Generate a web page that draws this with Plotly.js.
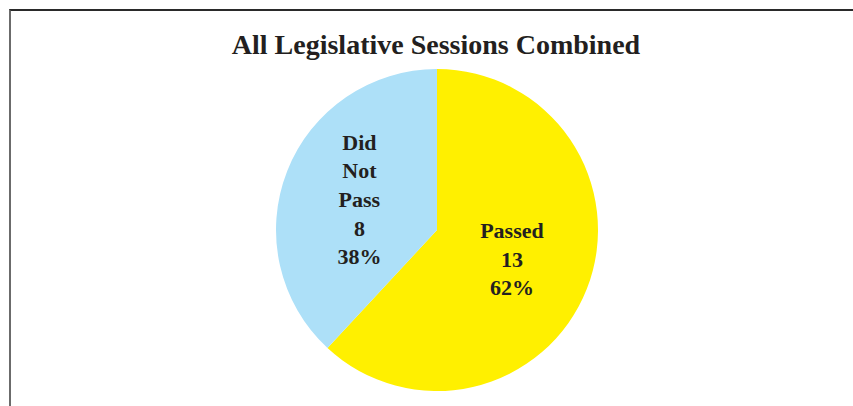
<!DOCTYPE html>
<html><head><meta charset="utf-8">
<script src="https://cdn.plot.ly/plotly-3.0.1.min.js"></script>
<style>
html,body{margin:0;padding:0;background:#fff;}
#wrap{position:relative;width:853px;height:406px;overflow:hidden;}
#frame{position:absolute;left:9px;top:9px;width:900px;height:500px;border-left:2px solid #6b6b6b;border-top:2px solid #2a2a2a;pointer-events:none;z-index:5;}
#chart{position:absolute;left:0;top:0;width:853px;height:406px;}
</style></head>
<body><div id="wrap"><div id="chart"></div><div id="frame"></div></div>
<script>
const categories = ["Passed", "Did<br>Not<br>Pass"];
const counts = [13, 8];
const colors = ["#FFF000", "#ADE0F8"];
const chartTitle = "All Legislative Sessions Combined";

const font = "'Liberation Serif', 'Times New Roman', serif";
Plotly.newPlot("chart", [{
  type: "pie",
  labels: categories,
  values: counts,
  sort: false,
  direction: "clockwise",
  rotation: 0,
  marker: {colors: colors, line: {width: 0}},
  texttemplate: "<b>%{label}<br>%{value}<br>%{percent:.0%}</b>",
  textposition: "inside",
  insidetextorientation: "horizontal",
  textfont: {family: font, size: 22, color: "#231f20"},
  hoverinfo: "none",
  showlegend: false
}], {
  width: 853, height: 406,
  margin: {l: 21, r: 0, t: 69, b: 15},
  paper_bgcolor: "#fff",
  title: {text: "<b>" + chartTitle + "</b>", font: {family: font, size: 28, color: "#231f20"},
          x: 436/853, xref: "container", xanchor: "center", y: 1 - 44/406, yref: "container", yanchor: "middle"}
}, {staticPlot: true, displayModeBar: false});
</script></body></html>
